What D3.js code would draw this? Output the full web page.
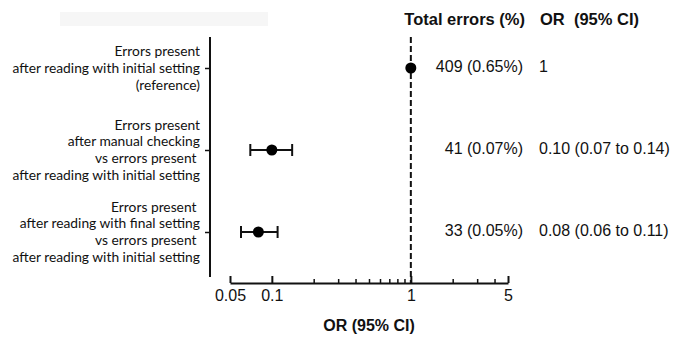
<html>
<head>
<style>
  body { margin: 0; background: #fff; }
  svg { display: block; }
  .lab { font-family: Lato, "DejaVu Sans", sans-serif; font-size: 13.8px; fill: #111; white-space: pre; }
  .num { font-family: "Liberation Sans", Arial, sans-serif; font-size: 16px; fill: #111; }
  .head { font-family: "Liberation Sans", Arial, sans-serif; font-size: 16.5px; font-weight: bold; fill: #111; }
  .tick text { font-family: "Liberation Sans", Arial, sans-serif; font-size: 16px; fill: #111; }
</style>
<script src="https://cdn.jsdelivr.net/npm/d3@7"></script>
</head>
<body>
<svg id="chart"></svg>
<script>
// data
let rows = ["ref", "manual", "final"]
let rowLabels = [
  ["Errors present", "after reading with initial setting", "(reference)"],
  ["Errors present", "after manual checking", "vs errors present ", "after reading with initial setting"],
  ["Errors present ", "after reading with final setting", "vs errors present ", "after reading with initial setting"]
]
let orValues = [1, 0.10, 0.08]
let ciLow = [null, 0.07, 0.06]
let ciHigh = [null, 0.14, 0.11]
let totalErrors = ["409 (0.65%)", "41 (0.07%)", "33 (0.05%)"]
let orText = ["1", "0.10 (0.07 to 0.14)", "0.08 (0.06 to 0.11)"]
let majorTicks = [0.05, 0.1, 1, 5]
let minorTicks = [0.2, 0.3, 0.4, 0.5, 0.6, 0.7, 0.8, 0.9, 2, 3, 4]

let width = 674, height = 337
let svg = d3.select("#chart").attr("width", width).attr("height", height)

// faint grey smudge at the top left of the original
svg.append("rect").attr("x", 60).attr("y", 12).attr("width", 208).attr("height", 14)
  .attr("fill", "#f6f6f6")

let xScale = d3.scaleLog().domain([0.05, 5]).range([230, 508])
let yScale = d3.scalePoint().domain(rows).range([68, 232])
let axisLeftX = 210
let axisBottomY = 283

// y axis
let yAxis = svg.append("g")
  .attr("transform", `translate(${axisLeftX},0)`)
  .call(d3.axisLeft(yScale).tickSize(5).tickSizeOuter(0).tickFormat(""))
yAxis.select(".domain").remove()
yAxis.selectAll("line").attr("stroke", "#111").attr("stroke-width", 1.5)
svg.append("line")
  .attr("x1", axisLeftX).attr("x2", axisLeftX).attr("y1", 37).attr("y2", 277)
  .attr("stroke", "#111").attr("stroke-width", 2)

// row labels
rows.forEach((r, i) => {
  let lines = rowLabels[i]
  let yc = yScale(r)
  let lineH = 16.7
  let first = i == 0 ? yc - lineH : yc - lineH * 1.5
  let t = svg.append("text").attr("class", "lab").attr("text-anchor", "end")
  lines.forEach((s, j) => {
    t.append("tspan").attr("x", 200).attr("y", first + j * lineH).attr("dy", "0.35em").text(s)
  })
})

// x axis
let xAxis = svg.append("g")
  .attr("transform", `translate(0,${axisBottomY})`)
  .call(d3.axisBottom(xScale).tickValues(majorTicks).tickSize(7).tickSizeOuter(0)
    .tickFormat(d => d3.format("~g")(d)))
xAxis.select(".domain").attr("stroke", "#111").attr("stroke-width", 2)
xAxis.selectAll(".tick line").attr("stroke", "#111").attr("stroke-width", 2).attr("y2", -7)
xAxis.selectAll(".tick text").attr("y", 7)
let minor = svg.append("g")
  .attr("transform", `translate(0,${axisBottomY})`)
  .call(d3.axisBottom(xScale).tickValues(minorTicks).tickSize(4).tickFormat(""))
minor.select(".domain").remove()
minor.selectAll("line").attr("stroke", "#111").attr("stroke-width", 1.5).attr("y2", -4)

svg.append("text").attr("class", "head").attr("x", 369).attr("y", 331)
  .attr("text-anchor", "middle").style("font-size", "16px").text("OR (95% CI)")

// reference line
svg.append("line")
  .attr("x1", xScale(1)).attr("x2", xScale(1)).attr("y1", 37).attr("y2", axisBottomY)
  .attr("stroke", "#111").attr("stroke-width", 2).attr("stroke-dasharray", "6,3")

// error bars and points
let g = svg.append("g")
rows.forEach((r, i) => {
  let y = yScale(r)
  if (ciLow[i] != null) {
    g.append("line").attr("x1", xScale(ciLow[i])).attr("x2", xScale(ciHigh[i]))
      .attr("y1", y).attr("y2", y).attr("stroke", "#111").attr("stroke-width", 2)
    ;[ciLow[i], ciHigh[i]].forEach(v => {
      g.append("line").attr("x1", xScale(v)).attr("x2", xScale(v))
        .attr("y1", y - 6).attr("y2", y + 6).attr("stroke", "#111").attr("stroke-width", 2)
    })
  }
  g.append("circle").attr("cx", xScale(orValues[i])).attr("cy", y).attr("r", 5.5).attr("fill", "#000")
})

// headers and value columns
svg.append("text").attr("class", "head").attr("x", 525).attr("y", 25).attr("text-anchor", "end").text("Total errors (%)")
svg.append("text").attr("class", "head").attr("x", 540).attr("y", 25).text("OR  (95% CI)")
  .style("white-space", "pre")
rows.forEach((r, i) => {
  let y = yScale(r) - 2
  svg.append("text").attr("class", "num").attr("x", 523).attr("y", y).attr("dy", "0.35em")
    .attr("text-anchor", "end").text(totalErrors[i])
  svg.append("text").attr("class", "num").attr("x", 539).attr("y", y).attr("dy", "0.35em")
    .text(orText[i])
})
</script>
</body>
</html>
